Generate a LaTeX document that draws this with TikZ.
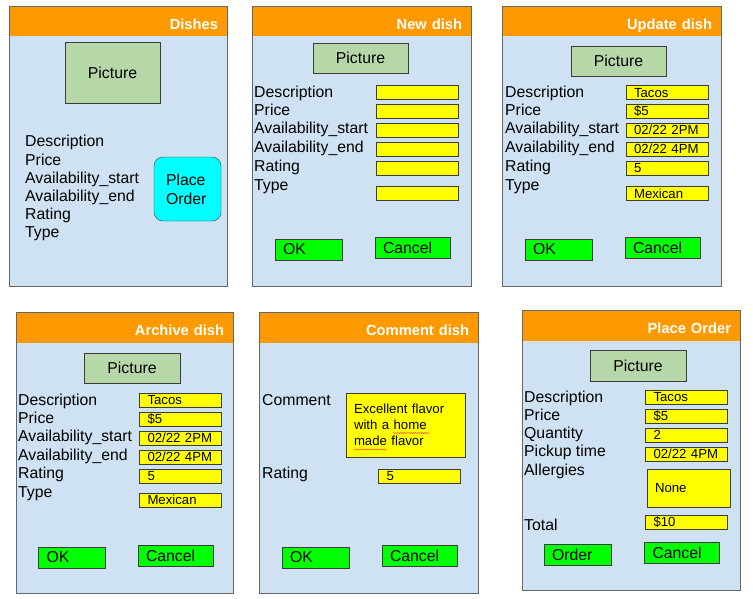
\documentclass[tikz,border=0pt]{standalone}
\usepackage{fontspec}
\setmainfont{Liberation Sans}
\definecolor{hdrorange}{HTML}{FF9900}
\definecolor{panelblue}{HTML}{CFE2F3}
\definecolor{picgreen}{HTML}{B6D7A8}
\definecolor{btngreen}{HTML}{00FF00}
\definecolor{fieldyellow}{HTML}{FFFF00}
\definecolor{btncyan}{HTML}{00FFFF}
\definecolor{edgegrey}{HTML}{666666}
\definecolor{boxgrey}{HTML}{3C3C3C}
\newcommand{\lblfont}{\fontsize{15.8}{18.5}\selectfont}
\newcommand{\valfont}{\fontsize{13.2}{16}\selectfont}
\newcommand{\hdrfont}{\fontsize{14.7}{17}\selectfont\bfseries}
\usetikzlibrary{decorations.pathmorphing}

\begin{document}
\begin{tikzpicture}[x=1pt, y=-1pt,
      panel/.style={fill=panelblue, inner sep=0pt},
      hdr/.style={fill=hdrorange, text=white, font=\hdrfont, align=right,
                  inner xsep=9pt, inner ysep=0pt, minimum height=29pt,
                  text height=15.6pt, text depth=0pt},
      edge/.style={draw=edgegrey, line width=0.9pt},
      photo/.style={draw=boxgrey, fill=picgreen, font=\lblfont, inner sep=0pt,
                    minimum width=95pt, minimum height=30pt},
      lbl/.style={anchor=base west, inner sep=0pt, font=\lblfont},
      field/.style={draw=boxgrey, fill=fieldyellow, font=\valfont, align=left,
                    text width=66pt, inner xsep=8pt, inner ysep=0pt,
                    minimum height=14pt, text height=9.6pt, text depth=0pt},
      note/.style={draw=boxgrey, fill=fieldyellow, align=left, inner xsep=8pt,
                   font=\fontsize{13.2}{16}\selectfont},
      btn/.style={draw=boxgrey, fill=btngreen, font=\lblfont, align=left,
                  inner xsep=8pt, inner ysep=0pt, minimum height=21pt},
      okbtn/.style={btn, text width=51pt},
      cnbtn/.style={btn, text width=59pt},
      ordbtn/.style={draw=boxgrey, fill=btncyan, rounded corners=9pt,
                     align=left, text width=43pt, inner xsep=12pt,
                     minimum height=64pt, font=\fontsize{15.8}{19}\selectfont},
      squig/.style={red!75, line width=0.4pt, decorate,
                    decoration={snake, amplitude=0.6pt, segment length=2.2pt}}
    ]
      \useasboundingbox (0,0) rectangle (753,598);

      % Dishes
      \node[panel, minimum width=217pt, minimum height=279pt] (dishes) at (118.5,146.5) {};
      \node[hdr, text width=199pt] (dishesh) at (118.5,21.5) {Dishes};
      \draw[edge] (dishes.north west) rectangle (dishes.south east);
      \node[photo, minimum height=61pt] (dishespic) at (112.5,72.5) {Picture};
      \node[lbl] (dishesl1) at (25,146.7) {Description};
      \node[lbl] (dishesl2) at (25,165) {Price};
      \node[lbl] (dishesl3) at (25,183.3) {Availability\_start};
      \node[lbl] (dishesl4) at (25,201.5) {Availability\_end};
      \node[lbl] (dishesl5) at (25,219.7) {Rating};
      \node[lbl] (dishesl6) at (25,237.8) {Type};
      \node[ordbtn] (dishesbtn) at (187.5,189) {Place\\Order};

      % New dish
      \node[panel, minimum width=218pt, minimum height=279pt] (newd) at (362,146.5) {};
      \node[hdr, text width=200pt] (newdh) at (362,21.5) {New dish};
      \draw[edge] (newd.north west) rectangle (newd.south east);
      \node[photo] (newdpic) at (360.5,58) {Picture};
      \node[lbl] (newdl1) at (254,97.7) {Description};
      \node[lbl] (newdl2) at (254,115.7) {Price};
      \node[lbl] (newdl3) at (254,133.7) {Availability\_start};
      \node[lbl] (newdl4) at (254,152.3) {Availability\_end};
      \node[lbl] (newdl5) at (254,171) {Rating};
      \node[lbl] (newdl6) at (254,190) {Type};
      \node[field] (newdf1) at (417,92.5) {};
      \node[field] (newdf2) at (417,111) {};
      \node[field] (newdf3) at (417,130) {};
      \node[field] (newdf4) at (417,149) {};
      \node[field] (newdf5) at (417,168) {};
      \node[field] (newdf6) at (417,193.5) {};
      \node[okbtn] (newdok) at (308.5,249.5) {OK};
      \node[cnbtn] (newdcn) at (412.5,248) {Cancel};

      % Update dish
      \node[panel, minimum width=218pt, minimum height=279pt] (upd) at (612,146.5) {};
      \node[hdr, text width=200pt] (updh) at (612,21.5) {Update dish};
      \draw[edge] (upd.north west) rectangle (upd.south east);
      \node[photo] (updpic) at (618.5,61) {Picture};
      \node[lbl] (updl1) at (505,97.7) {Description};
      \node[lbl] (updl2) at (505,115.7) {Price};
      \node[lbl] (updl3) at (505,133.7) {Availability\_start};
      \node[lbl] (updl4) at (505,152.3) {Availability\_end};
      \node[lbl] (updl5) at (505,171) {Rating};
      \node[lbl] (updl6) at (505,190) {Type};
      \node[field] (updf1) at (667,92.5) {Tacos};
      \node[field] (updf2) at (667,111) {\$5};
      \node[field] (updf3) at (667,130) {02/22 2PM};
      \node[field] (updf4) at (667,149) {02/22 4PM};
      \node[field] (updf5) at (667,168) {5};
      \node[field] (updf6) at (667,193.5) {Mexican};
      \node[okbtn] (updok) at (558.5,249.5) {OK};
      \node[cnbtn] (updcn) at (662.5,248) {Cancel};

      % Archive dish
      \node[panel, minimum width=216pt, minimum height=280pt] (arch) at (125,453) {};
      \node[hdr, text width=198pt, minimum height=30pt] (archh) at (125,328) {Archive dish};
      \draw[edge] (arch.north west) rectangle (arch.south east);
      \node[photo, minimum width=96pt] (archpic) at (132,368) {Picture};
      \node[lbl] (archl1) at (18,405) {Description};
      \node[lbl] (archl2) at (18,423.3) {Price};
      \node[lbl] (archl3) at (18,441.7) {Availability\_start};
      \node[lbl] (archl4) at (18,460.3) {Availability\_end};
      \node[lbl] (archl5) at (18,478.7) {Rating};
      \node[lbl] (archl6) at (18,497) {Type};
      \node[field] (archf1) at (180.5,400) {Tacos};
      \node[field] (archf2) at (180.5,419) {\$5};
      \node[field] (archf3) at (180.5,438) {02/22 2PM};
      \node[field] (archf4) at (180.5,457) {02/22 4PM};
      \node[field] (archf5) at (180.5,476) {5};
      \node[field] (archf6) at (180.5,500) {Mexican};
      \node[okbtn] (archok) at (72,557.5) {OK};
      \node[cnbtn] (archcn) at (175.5,555.5) {Cancel};

      % Comment dish
      \node[panel, minimum width=218pt, minimum height=280pt] (comm) at (369,453) {};
      \node[hdr, text width=200pt, minimum height=30pt] (commh) at (369,328) {Comment dish};
      \draw[edge] (comm.north west) rectangle (comm.south east);
      \node[lbl] (comml1) at (262,405) {Comment};
      \node[lbl] (comml2) at (262,478.3) {Rating};
      \node[note, text width=103pt, minimum height=64pt] (commtxt) at (405.5,425)
        {Excellent flavor\\with a home\\made flavor};
      \draw[squig] (393,433) -- (429,433);
      \draw[squig] (354,449.5) -- (387,449.5);
      \node[field] (commf) at (419.5,476) {5};
      \node[okbtn] (commok) at (315.5,557.5) {OK};
      \node[cnbtn] (commcn) at (419.5,555.5) {Cancel};

      % Place Order
      \node[panel, minimum width=217pt, minimum height=279pt] (order) at (631.5,450.5) {};
      \node[hdr, text width=199pt, minimum height=30pt] (orderh) at (631.5,326) {Place Order};
      \draw[edge] (order.north west) rectangle (order.south east);
      \node[photo, minimum width=96pt, minimum height=31pt] (orderpic) at (638,365.5) {Picture};
      \node[lbl] (orderl1) at (524,402) {Description};
      \node[lbl] (orderl2) at (524,420) {Price};
      \node[lbl] (orderl3) at (524,438.3) {Quantity};
      \node[lbl] (orderl4) at (524,456.3) {Pickup time};
      \node[lbl] (orderl5) at (524,475.7) {Allergies};
      \node[lbl] (orderl6) at (524,530.7) {Total};
      \node[field] (orderf1) at (686.5,397) {Tacos};
      \node[field] (orderf2) at (686.5,416) {\$5};
      \node[field] (orderf3) at (686.5,435) {2};
      \node[field] (orderf4) at (686.5,454) {02/22 4PM};
      \node[note, text width=67pt, minimum height=38pt] (orderall) at (688.5,488) {None};
      \node[field] (orderf6) at (686.5,522) {\$10};
      \node[okbtn] (orderok) at (577.5,554.5) {Order};
      \node[cnbtn] (ordercn) at (682,552.5) {Cancel};
    \end{tikzpicture}
\end{document}
